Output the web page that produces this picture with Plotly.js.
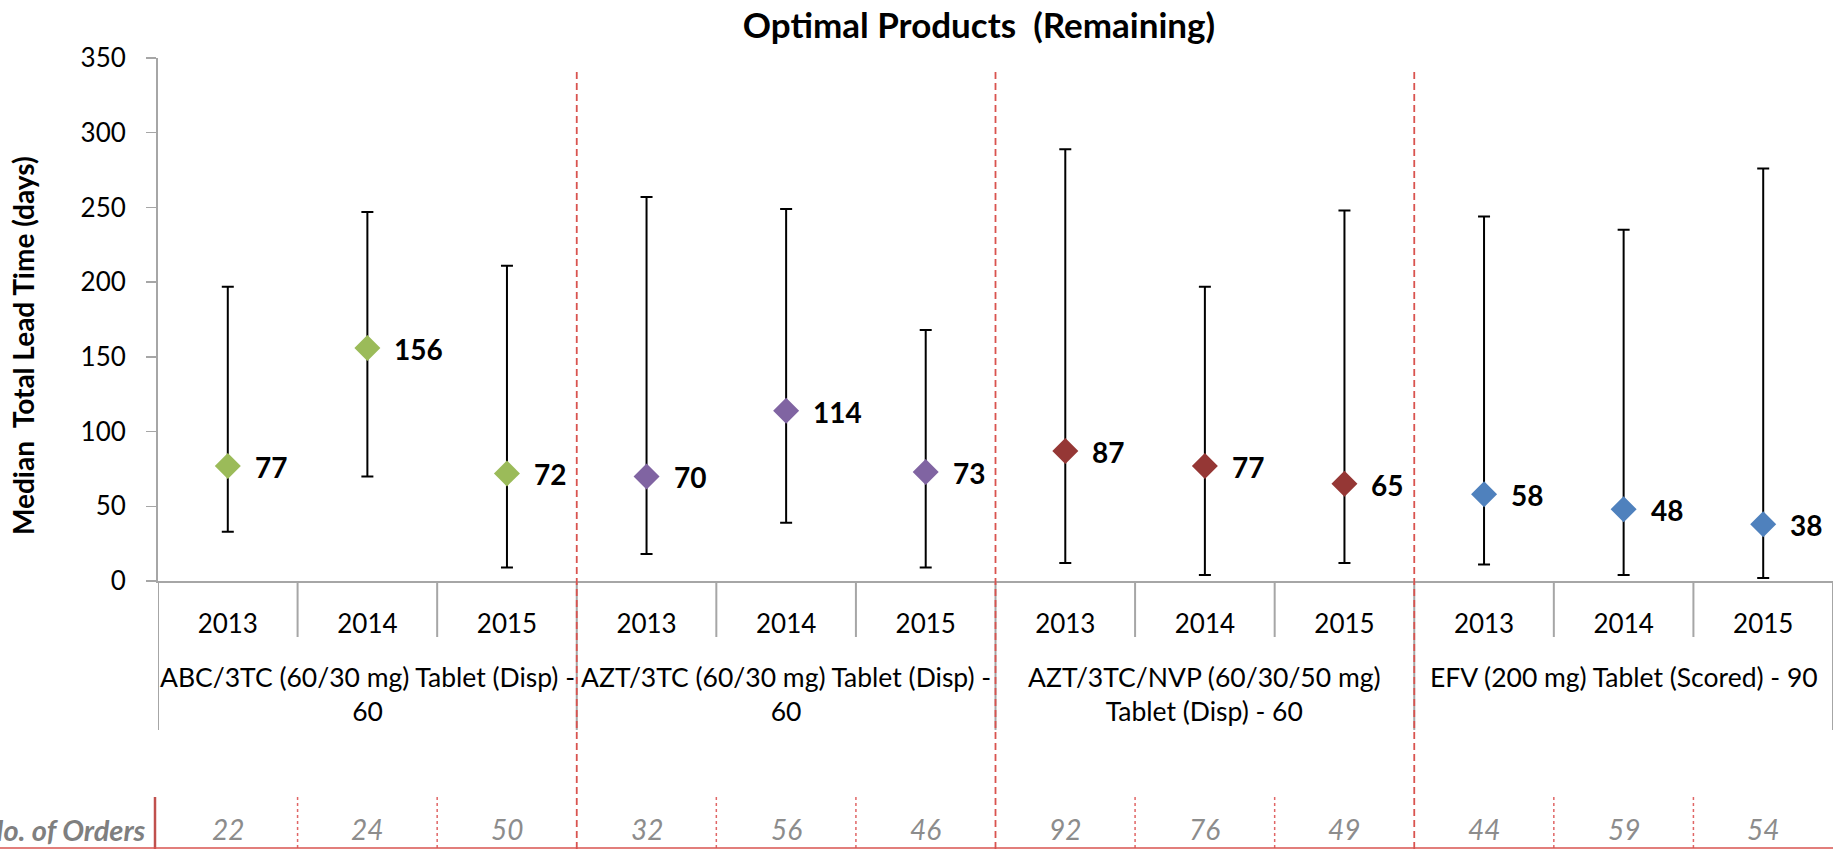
<!DOCTYPE html>
<html>
<head>
<meta charset="utf-8">
<script src="https://cdn.plot.ly/plotly-3.0.1.min.js"></script>
<style>html,body{margin:0;padding:0;background:#fff;overflow:hidden}</style>
</head>
<body>
<div id="chart" style="width:1833px;height:849px"></div>
<script>
// ---- data ----
const groupNames = [
  "ABC/3TC (60/30 mg) Tablet (Disp) -<br>60",
  "AZT/3TC (60/30 mg) Tablet (Disp) -<br>60",
  "AZT/3TC/NVP (60/30/50 mg)<br>Tablet (Disp) - 60",
  "EFV (200 mg) Tablet (Scored) - 90"
];
const years = ["2013", "2014", "2015"];
const groupColors = ["#9BBB59", "#8064A2", "#953735", "#4F81BD"];
const medianDays = [77, 156, 72, 70, 114, 73, 87, 77, 65, 58, 48, 38];
const upperDays  = [197, 247, 211, 257, 249, 168, 289, 197, 248, 244, 235, 276];
const lowerDays  = [33, 70, 9, 18, 39, 9, 12, 4, 12, 11, 4, 2];
const orderCounts = [22, 24, 50, 32, 56, 46, 92, 76, 49, 44, 59, 54];
const titleText = "Optimal Products  (Remaining)";
const yTitleText = "Median  Total Lead Time (days)";
const ordersLabel = "No. of Orders";

// ---- build ----
const FONT = "Lato, 'Open Sans', sans-serif";
const nG = groupNames.length, nY = years.length, n = nG * nY;
const idx = Array.from({length: n}, (_, i) => i);
const PH = 523; // plot height px
const py = px => -(px - 581) / PH; // paper y for pixel below axis

const traces = groupNames.map((g, gi) => {
  const ids = idx.slice(gi * nY, gi * nY + nY);
  return {
    type: "scatter", mode: "markers", name: g,
    x: ids,
    y: ids.map(i => medianDays[i]),
    marker: {symbol: "diamond", size: 20, color: groupColors[gi], line: {width: 0}},
    error_y: {
      type: "data", symmetric: false,
      array: ids.map(i => upperDays[i] - medianDays[i]),
      arrayminus: ids.map(i => medianDays[i] - lowerDays[i]),
      color: "#000000", thickness: 2, width: 6
    },
    cliponaxis: false,
    hoverinfo: "x+y"
  };
});

const shapes = [];
const annotations = [];
// boundaries
for (let b = 0; b <= n; b++) {
  const xb = b - 0.5;
  const isGroup = b % nY === 0;
  shapes.push({type: "line", xref: "x", yref: "paper", x0: xb, x1: xb,
    y0: 0, y1: isGroup ? py(730) : py(637),
    line: {color: "#A6A6A6", width: 2}});
  if (!isGroup) {
    shapes.push({type: "line", xref: "x", yref: "paper", x0: xb, x1: xb,
      y0: py(797), y1: py(849),
      line: {color: "#E06666", width: 1.5, dash: "dot"}});
  }
  if (isGroup && b > 0 && b < n) {
    shapes.push({type: "line", xref: "x", yref: "paper", x0: xb, x1: xb,
      y0: py(849), y1: 0.98,
      line: {color: "#D9534F", width: 1.8, dash: "7px,4px"}});
  }
}
// orders row frame
shapes.push({type: "line", xref: "paper", yref: "paper", x0: -3 / 1675, x1: -3 / 1675,
  y0: py(797), y1: py(849), line: {color: "#C0504D", width: 2.5}});
shapes.push({type: "line", xref: "paper", yref: "paper", x0: -0.1, x1: 1,
  y0: py(848), y1: py(848), line: {color: "#D9534F", width: 1.5}});

// value labels
idx.forEach(i => annotations.push({
  x: i, y: medianDays[i], xref: "x", yref: "y", text: String(medianDays[i]),
  showarrow: false, xanchor: "left", yanchor: "middle", xshift: 25, yshift: -1,
  font: {family: FONT, size: 28, color: "#000", weight: "bold"}
}));
// group labels
groupNames.forEach((g, gi) => annotations.push({
  x: gi * nY + (nY - 1) / 2, y: py(659), xref: "x", yref: "paper", text: g,
  showarrow: false, xanchor: "center", yanchor: "top",
  font: {family: FONT, size: 26.5, color: "#000"}
}));
// orders row
idx.forEach(i => annotations.push({
  x: i, y: py(829), xref: "x", yref: "paper", text: String(orderCounts[i]),
  showarrow: false, xanchor: "center", yanchor: "middle",
  font: {family: FONT, size: 28, color: "#8C8C8C", style: "italic"}
}));
annotations.push({
  x: -10 / 1675, y: py(829), xref: "paper", yref: "paper", text: ordersLabel,
  showarrow: false, xanchor: "right", yanchor: "middle",
  font: {family: FONT, size: 29, color: "#7F7F7F", style: "italic", weight: "bold"}
});
// y title
annotations.push({
  x: (23 - 158) / 1675, y: (581 - 346) / PH, xref: "paper", yref: "paper",
  text: yTitleText, textangle: -90, showarrow: false,
  xanchor: "center", yanchor: "middle",
  font: {family: FONT, size: 28, color: "#000", weight: "bold"}
});

const layout = {
  width: 1833, height: 849, autosize: false,
  margin: {l: 158, r: 0, t: 58, b: 268, pad: 0},
  paper_bgcolor: "#fff", plot_bgcolor: "#fff",
  showlegend: false,
  title: {text: titleText, x: (979 - 158) / 1675, xref: "paper", xanchor: "center",
    y: 1 - 26 / 849, yref: "container", yanchor: "middle",
    font: {family: FONT, size: 35, color: "#000", weight: "bold"}},
  xaxis: {
    range: [-0.5, n - 0.5], fixedrange: true,
    tickmode: "array", tickvals: idx, ticktext: idx.map(i => years[i % nY]),
    ticks: "", showgrid: false, zeroline: false,
    showline: true, linecolor: "#A6A6A6", linewidth: 2,
    ticklabelstandoff: 19,
    tickfont: {family: FONT, size: 26, color: "#000"}
  },
  yaxis: {
    range: [0, 350], dtick: 50, tick0: 0, fixedrange: true,
    ticks: "outside", ticklen: 10, tickwidth: 1.5, tickcolor: "#A6A6A6",
    showgrid: false, zeroline: false,
    showline: true, linecolor: "#A6A6A6", linewidth: 2,
    ticklabelstandoff: 15,
    tickfont: {family: FONT, size: 26, color: "#000"}
  },
  shapes: shapes,
  annotations: annotations
};

Plotly.newPlot("chart", traces, layout, {displayModeBar: false, staticPlot: true});
</script>
</body>
</html>
